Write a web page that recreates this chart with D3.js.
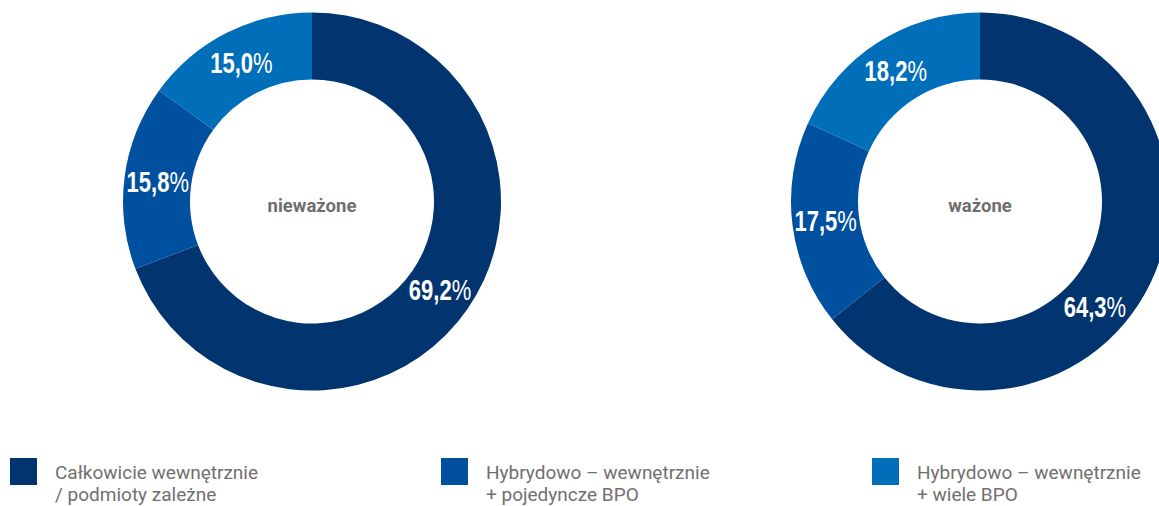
<!DOCTYPE html>
<html><head><meta charset="utf-8">
<script src="https://cdn.jsdelivr.net/npm/d3@7"></script>
<style>
html,body{margin:0;padding:0;background:#fff;}
svg{display:block;}
</style></head>
<body>
<svg id="c" width="1159" height="506"></svg>
<script>
const categories = ["Całkowicie wewnętrznie / podmioty zależne", "Hybrydowo – wewnętrznie + pojedyncze BPO", "Hybrydowo – wewnętrznie + wiele BPO"];
const legendLines = [["Całkowicie wewnętrznie", "/ podmioty zależne"], ["Hybrydowo – wewnętrznie", "+ pojedyncze BPO"], ["Hybrydowo – wewnętrznie", "+ wiele BPO"]];
const chartTitles = ["nieważone", "ważone"];
const valuesUnweighted = [69.2, 15.8, 15.0];
const valuesWeighted = [64.3, 17.5, 18.2];
const colors = ["#02346f", "#0050a0", "#006eb8"];

const W = 1159, H = 506;
const svg = d3.select("#c");
const color = d3.scaleOrdinal().domain(categories).range(colors);

const outerR = 189, innerR = 122;
const centers = [{x: 312, y: 201.5}, {x: 980, y: 201.5}];
const datasets = [valuesUnweighted, valuesWeighted];

const pie = d3.pie().sort(null).value(d => d.v);
const arc = d3.arc().innerRadius(innerR).outerRadius(outerR);
const midR = (innerR + outerR) / 2;
const fmt = v => d3.format(".1f")(v).replace(".", ",");
const SX = 0.76;

datasets.forEach((vals, i) => {
  const data = vals.map((v, k) => ({cat: categories[k], v}));
  const g = svg.append("g").attr("transform", `translate(${centers[i].x},${centers[i].y})`);
  const arcs = pie(data);
  g.selectAll("path").data(arcs).join("path")
    .attr("d", arc).attr("fill", d => color(d.data.cat));

  g.append("text").attr("x", 0).attr("y", 10.5)
    .attr("text-anchor", "middle")
    .attr("font-family", "Roboto, sans-serif").attr("font-weight", 700)
    .attr("font-size", 18.5).attr("fill", "#6e6e6e")
    .text(chartTitles[i]);

  arcs.forEach(a => {
    let ang = (a.startAngle + a.endAngle) / 2;
    const lg = g.append("g");
    const t = lg.append("text")
      .attr("text-anchor", "middle")
      .attr("font-family", "'Liberation Sans', Arial, sans-serif")
      .attr("font-size", 29).attr("fill", "#fff")
      .attr("transform", `scale(${SX},1)`);
    t.append("tspan").attr("font-weight", 700).text(fmt(a.data.v));
    t.append("tspan").attr("font-weight", 400).text("%");
    const w = t.node().getComputedTextLength() * SX;
    // keep label inside the visible area by sliding along the ring
    let px = Math.sin(ang) * midR, py = -Math.cos(ang) * midR;
    while (centers[i].x + px + w / 2 > W - 32 && ang < a.endAngle) {
      ang += 0.01;
      px = Math.sin(ang) * midR; py = -Math.cos(ang) * midR;
    }
    lg.attr("transform", `translate(${px},${py + 10.5})`);
  });
});

const legend = svg.append("g");
categories.forEach((c, k) => {
  const gx = 10 + k * 431;
  const lg = legend.append("g").attr("transform", `translate(${gx},458)`);
  lg.append("rect").attr("width", 27).attr("height", 27).attr("fill", color(c));
  const t = lg.append("text").attr("font-family", "Roboto, sans-serif")
    .attr("font-size", 19).attr("fill", "#707070");
  legendLines[k].forEach((ln, j) => {
    t.append("tspan").attr("x", 45).attr("y", 20.7 + j * 22.5).text(ln);
  });
});
</script>
</body></html>
